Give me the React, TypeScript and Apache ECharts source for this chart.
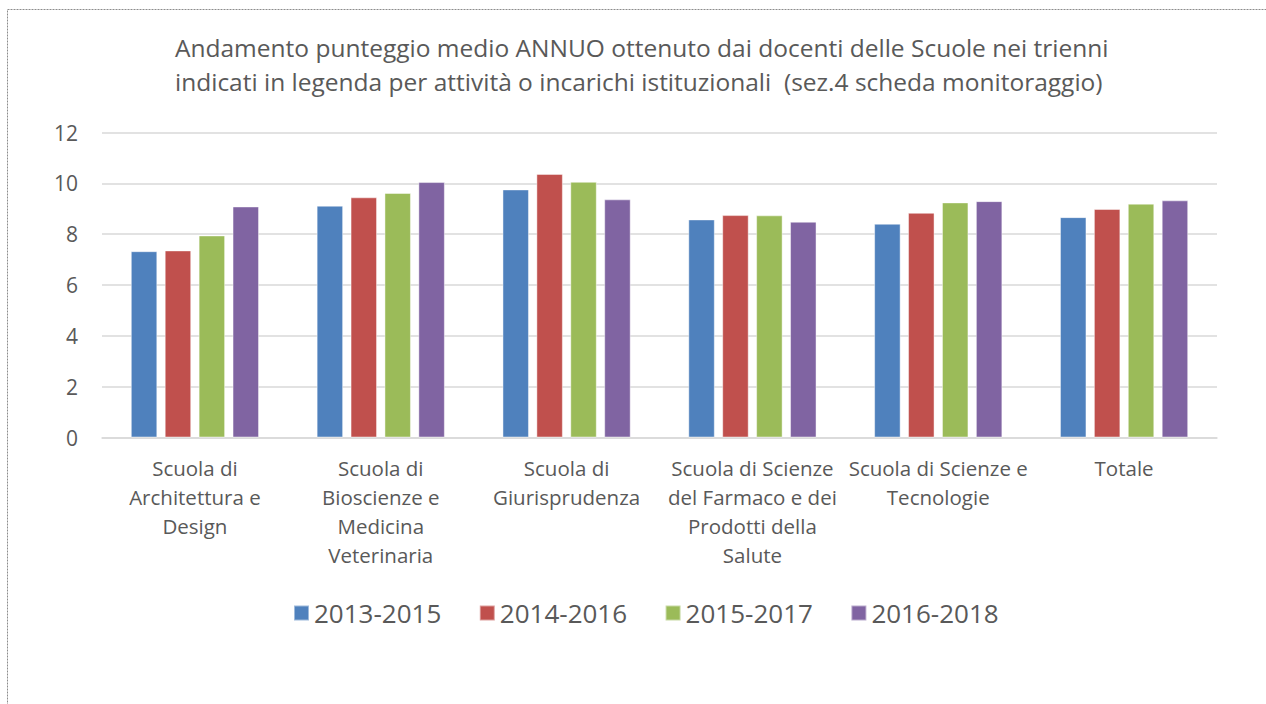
import React, { useEffect, useRef } from "react";
import * as echarts from "echarts";

const categories = [
  "Scuola di\nArchitettura e\nDesign",
  "Scuola di\nBioscienze e\nMedicina\nVeterinaria",
  "Scuola di\nGiurisprudenza",
  "Scuola di Scienze\ndel Farmaco e dei\nProdotti della\nSalute",
  "Scuola di Scienze e\nTecnologie",
  "Totale",
];
const seriesNames = ["2013-2015", "2014-2016", "2015-2017", "2016-2018"];
const s2013_2015 = [7.33, 9.12, 9.76, 8.58, 8.41, 8.67];
const s2014_2016 = [7.36, 9.45, 10.37, 8.75, 8.84, 8.99];
const s2015_2017 = [7.95, 9.62, 10.06, 8.74, 9.25, 9.2];
const s2016_2018 = [9.09, 10.05, 9.37, 8.49, 9.3, 9.33];
const colors = ["#4F81BD", "#C0504D", "#9BBB59", "#8064A2"];
const titleText =
  "Andamento punteggio medio ANNUO ottenuto dai docenti delle Scuole nei trienni\nindicati in legenda per attività o incarichi istituzionali  (sez.4 scheda monitoraggio)";

export default function App() {
  const ref = useRef<HTMLDivElement>(null);
  useEffect(() => {
    if (!ref.current) return;
    const chart = echarts.init(ref.current, undefined, { renderer: "svg" });
    const font = "'Open Sans', Lato, sans-serif";
    const data = [s2013_2015, s2014_2016, s2015_2017, s2016_2018];
    chart.setOption({
      animation: false,
      backgroundColor: "#ffffff",
      textStyle: { fontFamily: font },
      title: {
        text: titleText,
        left: 170,
        top: 25,
        textStyle: {
          fontFamily: font,
          fontSize: 24.5,
          fontWeight: "normal",
          color: "#595959",
          lineHeight: 34,
          align: "center",
        },
        textAlign: "left",
      },
      legend: {
        data: seriesNames,
        left: 288,
        top: 595,
        itemWidth: 15,
        itemHeight: 15,
        itemGap: 37.5,
        icon: "rect",
        textStyle: { fontFamily: font, fontSize: 26, color: "#595959" },
      },
      grid: { left: 102, right: 49, top: 132.5, bottom: 266.5, containLabel: false },
      xAxis: {
        type: "category",
        data: categories,
        axisLine: { show: true, lineStyle: { color: "#D9D9D9", width: 1.5 } },
        axisTick: { show: false },
        axisLabel: {
          interval: 0,
          margin: 16,
          fontFamily: font,
          fontSize: 20.5,
          lineHeight: 29,
          color: "#595959",
          align: "center",
        },
      },
      yAxis: {
        type: "value",
        min: 0,
        max: 12,
        interval: 2,
        axisLine: { show: false },
        axisTick: { show: false },
        splitLine: { lineStyle: { color: "#D9D9D9", width: 1.5 } },
        axisLabel: { margin: 24, fontFamily: font, fontSize: 21, color: "#595959" },
      },
      series: seriesNames.map((name, i) => ({
        name,
        type: "bar",
        data: data[i],
        barGap: "28%",
        barCategoryGap: "31%",
        itemStyle: {
          color: colors[i],
          borderColor: "rgba(255,255,255,0.45)",
          borderWidth: 1,
        },
      })),
      graphic: [
        {
          type: "rect",
          silent: true,
          shape: { x: 7.5, y: 9.5, width: 1300, height: 800 },
          style: { fill: "none", stroke: "#8c8c8c", lineWidth: 1, lineDash: [2, 1] },
        },
      ],
    });
    return () => chart.dispose();
  }, []);
  return (
    <div
      ref={ref}
      style={{ position: "absolute", left: 0, top: 0, width: 1266, height: 704 }}
    />
  );
}
